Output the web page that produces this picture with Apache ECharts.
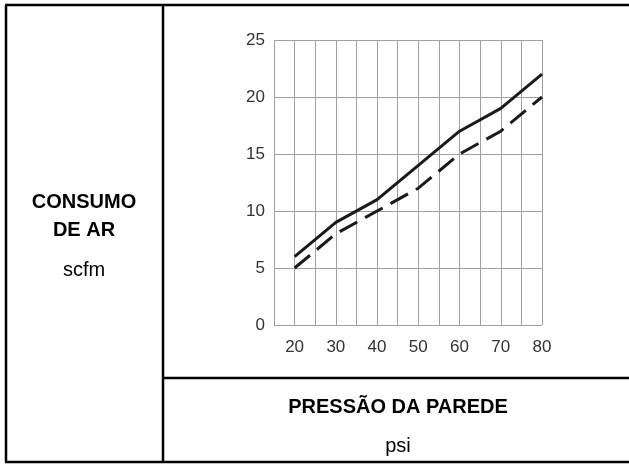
<!DOCTYPE html>
<html>
<head>
<meta charset="utf-8">
<script src="https://cdn.jsdelivr.net/npm/echarts@6/dist/echarts.min.js"></script>
<style>
  html, body { margin: 0; padding: 0; background: #fff; }
  #chart { width: 629px; height: 466px; }
</style>
</head>
<body>
<div id="chart"></div>
<script>
var pressao = [20, 30, 40, 50, 60, 70, 80];
var consumoSolido = [6, 9, 11, 14, 17, 19, 22];
var consumoTracejado = [5, 8, 10, 12, 15, 17, 20];

var yLabel = ['CONSUMO', 'DE AR'];
var yUnit = 'scfm';
var xLabel = 'PRESSÃO DA PAREDE';
var xUnit = 'psi';

function pares(xs, ys) {
	return xs.map(function (x, i) { return [x, ys[i]]; });
}

(function(){
	var myChart = echarts.init(document.getElementById('chart'));
	var fonte = 'Liberation Sans, Arial, sans-serif';
	var borda = { stroke: '#000', lineWidth: 2.5 };
	var option = {
		animation: false,
		grid: { left: 274, right: 87, top: 40, bottom: 141 },
		xAxis: {
			type: 'value',
			min: 15,
			max: 80,
			interval: 5,
			axisLine: { show: false },
			axisTick: { show: false },
			splitLine: { show: true, lineStyle: { color: '#a0a0a0', width: 1 } },
			axisLabel: {
				color: '#333',
				fontSize: 17,
				fontFamily: fonte,
				margin: 14,
				showMinLabel: false,
				formatter: function (v) { return v % 10 === 0 ? v : ''; }
			}
		},
		yAxis: {
			type: 'value',
			min: 0,
			max: 25,
			interval: 5,
			axisLine: { show: false },
			axisTick: { show: false },
			splitLine: { show: true, lineStyle: { color: '#a0a0a0', width: 1 } },
			axisLabel: { color: '#333', fontSize: 17, fontFamily: fonte, margin: 9 }
		},
		series: [
			{
				type: 'line',
				data: pares(pressao, consumoSolido),
				symbol: 'none',
				lineStyle: { color: '#1a1a1a', width: 3, type: 'solid' }
			},
			{
				type: 'line',
				data: pares(pressao, consumoTracejado),
				symbol: 'none',
				lineStyle: { color: '#1a1a1a', width: 3, type: [20, 9] }
			}
		],
		graphic: [
			// moldura da tabela
			{ type: 'line', shape: { x1: 5, y1: 5, x2: 629, y2: 5 }, style: borda },
			{ type: 'line', shape: { x1: 5, y1: 462, x2: 629, y2: 462 }, style: borda },
			{ type: 'line', shape: { x1: 6, y1: 5, x2: 6, y2: 462 }, style: borda },
			{ type: 'line', shape: { x1: 163, y1: 5, x2: 163, y2: 462 }, style: borda },
			{ type: 'line', shape: { x1: 163, y1: 378, x2: 629, y2: 378 }, style: borda },
			// textos
			{ type: 'text', style: { text: yLabel[0], x: 84, y: 202, align: 'center', verticalAlign: 'middle', font: 'bold 20px ' + fonte, fill: '#000' } },
			{ type: 'text', style: { text: yLabel[1], x: 84, y: 230, align: 'center', verticalAlign: 'middle', font: 'bold 20px ' + fonte, fill: '#000' } },
			{ type: 'text', style: { text: yUnit, x: 84, y: 270, align: 'center', verticalAlign: 'middle', font: '20px ' + fonte, fill: '#000' } },
			{ type: 'text', style: { text: xLabel, x: 398, y: 407, align: 'center', verticalAlign: 'middle', font: 'bold 20px ' + fonte, fill: '#000' } },
			{ type: 'text', style: { text: xUnit, x: 398, y: 446, align: 'center', verticalAlign: 'middle', font: '20px ' + fonte, fill: '#000' } }
		]
	};
	myChart.setOption(option);
	window.addEventListener('resize', function() {
		myChart.resize();
	});
})();
</script>
</body>
</html>
